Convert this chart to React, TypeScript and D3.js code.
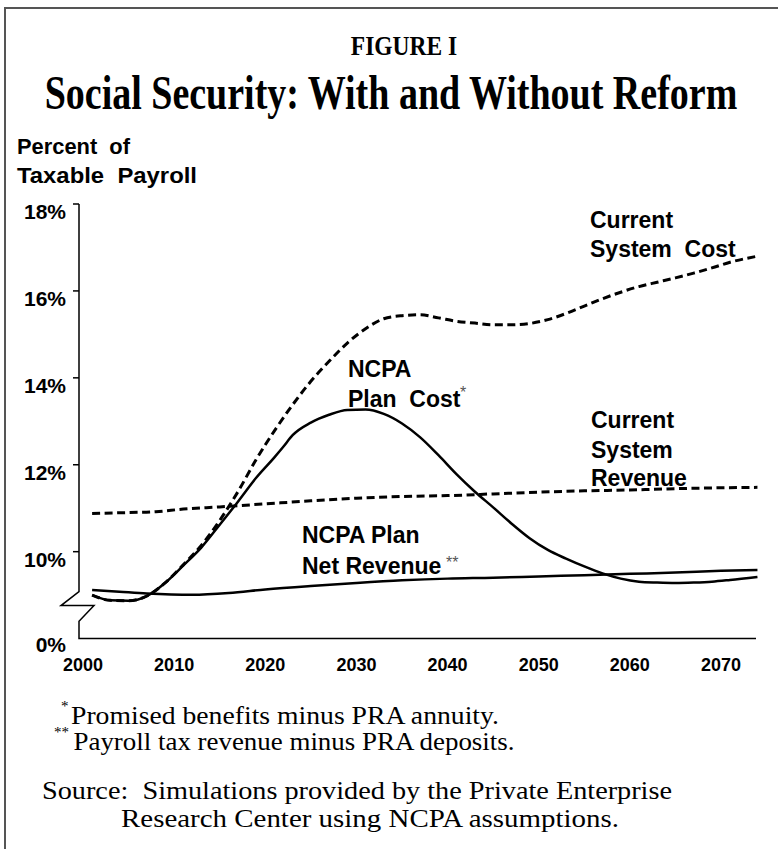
import React from "react";
import * as d3 from "d3";

// ---------- data (percent of taxable payroll) ----------
const costYears = [2001, 2003, 2005, 2007, 2009, 2011, 2013, 2015, 2017, 2019, 2021, 2023, 2025, 2027, 2029, 2031, 2033, 2035, 2037, 2039, 2041, 2043, 2045, 2047, 2049, 2051, 2053, 2055, 2057, 2059, 2061, 2063, 2065, 2067, 2069, 2071, 2074];
const currentSystemCost = [9.0, 8.88, 8.87, 8.98, 9.28, 9.7, 10.15, 10.72, 11.38, 12.12, 12.78, 13.38, 13.92, 14.38, 14.8, 15.13, 15.36, 15.43, 15.45, 15.38, 15.3, 15.26, 15.22, 15.22, 15.25, 15.34, 15.48, 15.65, 15.82, 15.97, 16.1, 16.2, 16.3, 16.41, 16.53, 16.66, 16.8];

const planCostYears = [2001, 2003, 2005, 2007, 2009, 2011, 2013, 2015, 2017, 2019, 2021, 2022, 2023, 2025, 2027, 2029, 2031, 2033, 2035, 2037, 2039, 2041, 2043, 2045, 2047, 2049, 2051, 2053, 2055, 2057, 2059, 2061, 2063, 2065, 2067, 2069, 2071, 2074];
const ncpaPlanCost = [9.0, 8.88, 8.87, 8.98, 9.28, 9.68, 10.1, 10.62, 11.15, 11.7, 12.17, 12.42, 12.68, 12.97, 13.15, 13.26, 13.27, 13.17, 12.95, 12.63, 12.22, 11.78, 11.38, 11.02, 10.65, 10.31, 10.04, 9.84, 9.66, 9.5, 9.38, 9.31, 9.29, 9.28, 9.29, 9.31, 9.35, 9.42];

const revenueYears = [2001, 2005, 2008, 2011, 2015, 2020, 2025, 2030, 2035, 2040, 2045, 2050, 2055, 2060, 2065, 2070, 2074];
const currentSystemRevenue = [10.88, 10.9, 10.92, 10.98, 11.03, 11.1, 11.17, 11.23, 11.27, 11.29, 11.33, 11.37, 11.4, 11.42, 11.45, 11.47, 11.48];

const netRevenueYears = [2001, 2004, 2007, 2012, 2016, 2020, 2025, 2030, 2035, 2040, 2045, 2050, 2055, 2060, 2065, 2070, 2074];
const ncpaNetRevenue = [9.12, 9.08, 9.04, 9.01, 9.05, 9.13, 9.21, 9.28, 9.34, 9.38, 9.4, 9.43, 9.46, 9.49, 9.52, 9.56, 9.58];

const xTicks = [2000, 2010, 2020, 2030, 2040, 2050, 2060, 2070];
const yTicks = [10, 12, 14, 16, 18];
const yTickLabels = ["10%", "12%", "14%", "16%", "18%"];
const zeroLabel = "0%";

const title = "Social Security: With and Without Reform";
const figureLabel = "FIGURE I";

// ---------- layout ----------
const W = 778;
const H = 849;
const sans = "'Liberation Sans', Arial, Helvetica, sans-serif";
const serif = "'Liberation Serif', 'Times New Roman', Times, serif";

const x = d3.scaleLinear().domain([2000, 2070]).range([83, 721]);
// value 8 sits at the baseline (axis break stands in for 0%..8%)
const y = d3.scaleLinear().domain([8, 18]).range([638.6, 204]);
const axisX = 79;
const axisRight = 756;

const toPts = (yrs: number[], vals: number[]) => yrs.map((yr, i) => [yr, vals[i]] as [number, number]);
const lineGen = d3
  .line<[number, number]>()
  .x((d) => x(d[0]))
  .y((d) => y(d[1]))
  .curve(d3.curveMonotoneX);

export default function App() {
  const breakTop = y(9.08);
  const breakMid = y(8.76);
  const breakBot = y(8.4);
  const base = y(8);
  const axisPath = `M${axisX},${y(18)}V${breakTop}L${axisX - 18},${breakMid}H${axisX + 15}L${axisX},${breakBot}V${base}H${axisRight}`;

  return (
    <svg
      width={W}
      height={H}
      viewBox={`0 0 ${W} ${H}`}
      style={{ position: "absolute", left: 0, top: 0, background: "#fff" }}
    >
      <rect x={0} y={0} width={W} height={H} fill="#fff" />
      {/* frame */}
      <path d={`M5,${H}V8H${W}`} fill="none" stroke="#555" strokeWidth={2} />

      {/* titles (condensed serif, as in the original) */}
      <text transform="translate(404,55) scale(1,1.12)" textAnchor="middle" fontFamily={serif} fontWeight="bold" fontSize={23.5}>
        {figureLabel}
      </text>
      <text transform="translate(391,109) scale(1,1.25)" textAnchor="middle" fontFamily={serif} fontWeight="bold" fontSize={38}>
        {title}
      </text>

      {/* y axis title */}
      <g fontFamily={sans} fontWeight="bold" fontSize={22}>
        <text x={17} y={154} xmlSpace="preserve" textLength={113} lengthAdjust="spacingAndGlyphs">Percent  of</text>
        <text x={17} y={183} xmlSpace="preserve" textLength={180} lengthAdjust="spacingAndGlyphs">Taxable  Payroll</text>
      </g>

      {/* axes */}
      <path d={axisPath} fill="none" stroke="#000" strokeWidth={1.5} />
      {yTicks.map((t, i) => (
        <g key={t}>
          <line x1={axisX - 6} x2={axisX} y1={y(t)} y2={y(t)} stroke="#000" strokeWidth={1.5} />
          <text x={66} y={y(t) + 15} textAnchor="end" fontFamily={sans} fontWeight="bold" fontSize={21}>
            {yTickLabels[i]}
          </text>
        </g>
      ))}
      <text x={66} y={base + 13} textAnchor="end" fontFamily={sans} fontWeight="bold" fontSize={21}>
        {zeroLabel}
      </text>
      {xTicks.map((t) => (
        <text key={t} x={x(t)} y={671} textAnchor="middle" fontFamily={sans} fontWeight="bold" fontSize={18}>
          {t}
        </text>
      ))}

      {/* series */}
      <path d={lineGen(toPts(revenueYears, currentSystemRevenue)) || ""} fill="none" stroke="#000" strokeWidth={3} strokeDasharray="8,4.5" />
      <path d={lineGen(toPts(costYears, currentSystemCost)) || ""} fill="none" stroke="#000" strokeWidth={3} strokeDasharray="8,4.5" />
      <path d={lineGen(toPts(planCostYears, ncpaPlanCost)) || ""} fill="none" stroke="#000" strokeWidth={2.5} />
      <path d={lineGen(toPts(netRevenueYears, ncpaNetRevenue)) || ""} fill="none" stroke="#000" strokeWidth={2.5} />

      {/* series labels */}
      <g fontFamily={sans} fontWeight="bold" fontSize={23}>
        <text x={590} y={228}>Current</text>
        <text x={590} y={257} xmlSpace="preserve">System  Cost</text>
        <text x={348} y={377}>NCPA</text>
        <text x={348} y={407} xmlSpace="preserve">Plan  Cost</text>
        <text x={591} y={428}>Current</text>
        <text x={591} y={458}>System</text>
        <text x={591} y={486}>Revenue</text>
        <text x={302} y={543}>NCPA Plan</text>
        <text x={302} y={574}>Net Revenue</text>
      </g>
      <text x={460} y={398} fontFamily={sans} fontSize={16} fill="#555">*</text>
      <text x={446} y={568} fontFamily={sans} fontSize={16} fill="#555">**</text>

      {/* footnotes */}
      <g fontFamily={serif} fontSize={26} fill="#000">
        <text x={61} y={711} fontSize={15}>*</text>
        <text x={71} y={724} textLength={428} lengthAdjust="spacingAndGlyphs">Promised benefits minus PRA annuity.</text>
        <text x={54} y={737} fontSize={15}>**</text>
        <text x={73.5} y={750} textLength={441} lengthAdjust="spacingAndGlyphs">Payroll tax revenue minus PRA deposits.</text>
        <text x={42} y={799} xmlSpace="preserve" textLength={630} lengthAdjust="spacingAndGlyphs">Source:  Simulations provided by the Private Enterprise</text>
        <text x={121} y={827} textLength={498} lengthAdjust="spacingAndGlyphs">Research Center using NCPA assumptions.</text>
      </g>
    </svg>
  );
}
